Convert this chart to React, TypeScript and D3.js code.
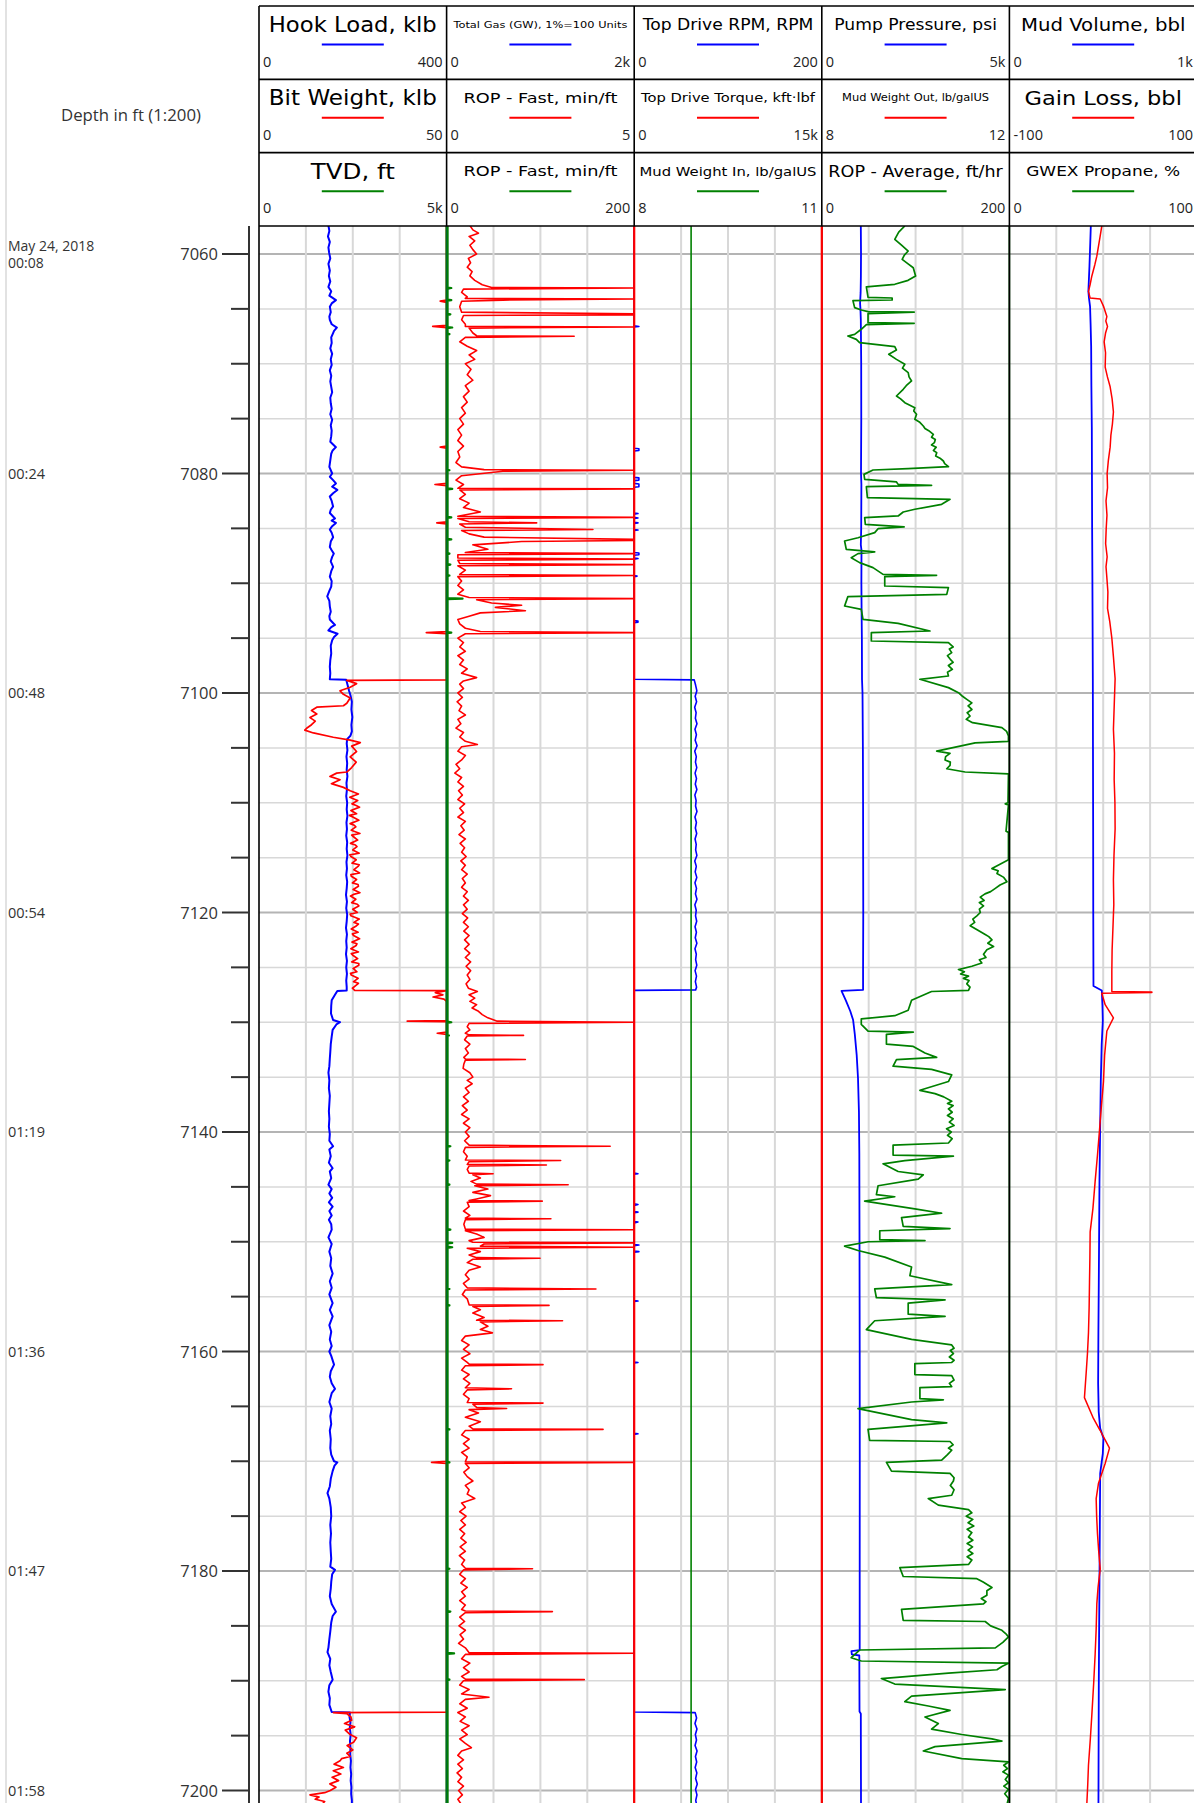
import React from "react";
import * as d3 from "d3";

// ---------------- DATA (depth ft, value) as flat pairs ----------------
const depthLabels = [7060, 7080, 7100, 7120, 7140, 7160, 7180, 7200];
const timeLabels = [["May 24, 2018", "00:08"], ["00:24"], ["00:48"], ["00:54"], ["01:19"], ["01:36"], ["01:47"], ["01:58"]];

const hookLoad = [
  7057.4,148, 7057.9,150, 7058.4,147, 7058.9,151, 7059.4,148, 7059.9,149.6, 7060.4,152, 7060.9,148, 7061.5,151, 7062.0,149, 7062.5,152, 7063.0,148, 7063.4,154, 7063.8,150, 7064.2,164, 7064.5,155, 7064.8,151, 7065.3,153, 7065.7,150, 7066.0,151, 7066.4,155, 7066.7,166, 7067.0,160, 7067.2,158, 7067.6,154, 7068.1,155, 7068.6,152, 7069.1,156, 7069.6,153, 7070.1,155, 7070.6,151, 7071.1,154, 7071.6,152, 7072.1,154, 7072.6,156, 7073.1,152, 7073.6,153, 7074.1,155, 7074.6,152, 7075.1,156, 7075.6,153, 7076.1,155, 7076.6,154, 7077.1,152, 7077.6,164, 7077.9,157, 7078.2,154, 7078.8,152, 7079.4,150, 7080.0,156, 7080.3,151, 7080.6,158, 7080.9,164, 7081.2,156, 7081.5,167, 7081.8,158, 7082.1,151, 7082.5,155, 7083.0,158, 7083.3,153, 7083.6,151, 7084.1,162, 7084.3,155, 7084.5,164, 7084.8,156, 7085.1,151, 7085.4,155, 7085.8,158, 7086.2,153, 7086.7,151, 7087.0,155, 7087.3,159.5, 7087.6,156, 7088.0,153, 7088.5,158, 7088.9,154, 7089.4,151, 7089.8,155, 7090.3,154, 7090.7,150, 7091.2,145.5, 7091.6,150, 7092.1,151, 7092.6,153, 7093.0,150, 7093.3,151, 7093.8,162, 7094.0,154, 7094.3,148, 7094.6,167.5, 7094.9,160, 7095.2,156, 7095.7,153, 7096.4,154, 7097.0,152, 7097.6,151, 7098.2,152, 7098.75,151,
  7098.8,186, 7099.3,189, 7099.8,192, 7100.2,195, 7100.8,198, 7101.5,197, 7102.2,199, 7102.9,197, 7103.5,198, 7103.9,195, 7104.2,188, 7104.6,187, 7105.2,188.5, 7105.8,186.5, 7106.4,188, 7107.0,187, 7107.6,188.5, 7108.2,186.5, 7108.8,187.5, 7109.4,186, 7110.0,188, 7110.6,187, 7111.2,188.5, 7111.8,186.5, 7112.4,187.5, 7113.0,186, 7113.6,188, 7114.2,187, 7114.8,188.5, 7115.4,186.5, 7116.0,187.5, 7116.6,186, 7117.2,188, 7117.8,187, 7118.4,185.5, 7119.0,187.5, 7119.6,186, 7120.2,188, 7120.8,187, 7121.4,185.5, 7122.0,187.5, 7122.6,186, 7123.2,187, 7123.8,185.5, 7124.4,187.5, 7125.0,186, 7125.6,187.5, 7126.2,186, 7126.8,187, 7127.1,187,
  7127.15,167, 7127.5,162, 7128.0,155, 7128.5,154, 7129.2,153.5, 7129.8,158, 7130.0,172.8, 7130.2,165, 7130.7,157, 7131.3,155, 7132.0,153, 7132.7,152, 7133.3,151, 7134.0,150, 7134.6,148, 7135.3,150, 7136.0,149, 7136.7,151, 7137.4,150, 7138.1,149, 7138.8,150, 7139.5,149, 7140.2,151, 7140.8,150, 7141.3,158, 7141.6,150, 7142.2,153, 7142.8,149, 7143.3,157, 7143.6,151, 7144.2,154, 7144.8,148, 7145.2,155, 7145.6,150, 7146.0,156, 7146.4,149, 7146.8,157, 7147.2,150, 7147.6,155, 7148.0,149, 7148.4,154, 7148.9,155, 7149.6,148, 7150.2,155, 7150.9,150, 7151.5,154, 7152.2,152, 7152.9,157, 7153.6,151, 7154.2,155, 7154.8,150, 7155.6,157, 7156.2,151, 7156.8,157, 7157.6,150, 7158.2,154, 7158.9,151, 7159.5,155, 7160.0,150, 7160.4,154, 7161.2,160, 7161.8,153, 7162.3,151, 7162.9,155, 7163.4,162, 7163.8,155, 7164.6,150, 7165.2,155, 7165.9,152, 7166.6,154, 7167.2,151, 7168.0,153, 7168.8,152, 7169.4,154, 7170.0,160, 7170.1,167, 7170.4,161, 7170.9,157, 7171.6,153, 7172.3,151, 7172.9,146, 7173.4,150, 7174.2,153, 7175.0,154, 7175.8,152, 7176.6,153.5, 7177.4,152, 7178.2,153, 7178.9,154, 7179.6,152, 7179.9,162, 7180.3,156, 7181.0,154, 7181.6,153, 7182.3,151, 7183.0,155, 7183.7,164, 7184.1,157, 7184.7,154, 7185.5,152, 7186.2,150, 7187.0,148, 7187.4,146, 7188.0,152, 7188.6,150, 7189.2,153, 7189.9,157, 7190.4,150, 7191.0,148, 7191.6,151, 7192.2,150, 7192.85,155,
  7192.9,194, 7193.3,193, 7193.8,195, 7194.3,193.5, 7194.9,195.5, 7195.5,194, 7196.1,195, 7196.7,194.5, 7197.3,196, 7197.9,195, 7198.5,196.5, 7199.1,195.5, 7199.7,197, 7200.3,196.5, 7200.9,198, 7201.3,198,
];

const bitWeight = [
  7057.4,55, 7064.2,55, 7064.3,48.3, 7064.4,55, 7066.5,55, 7066.6,46.3, 7066.7,55, 7077.5,55, 7077.6,48.3, 7077.7,55, 7080.9,55, 7081.0,46.9, 7081.1,55, 7084.4,55, 7084.5,47.4, 7084.6,55, 7094.4,55, 7094.5,44.6, 7094.6,55, 7098.8,55,
  7098.85,23.4, 7099.15,26, 7099.47,24.3, 7099.8,21.6, 7100.12,22.5, 7100.45,24.3, 7100.94,23.4, 7101.16,22.5, 7101.29,15.4, 7101.59,14, 7101.91,15.4, 7102.24,13.6, 7102.56,15, 7102.89,14, 7103.21,12.7, 7103.38,12.2, 7103.64,14.5, 7104.03,19.8, 7104.29,24.3, 7104.52,27, 7104.84,24.7, 7105.33,26, 7105.82,24.3, 7106.3,25.9, 7106.79,24.7, 7107.2,23.4, 7107.3,20.7, 7107.6,18.9, 7107.9,21.6, 7108.26,19.3, 7108.6,22.5, 7108.9,24.3, 7109.2,26.5,
  7109.5,24.2, 7109.7,25.6, 7109.8,26.3, 7110.1,24.8, 7110.25,25.9, 7110.4,26.8, 7110.7,24.5, 7111.0,26.0, 7111.15,24.1, 7111.3,25.0, 7111.6,26.6, 7111.9,24.3, 7112.05,25.4, 7112.2,25.8, 7112.5,24.6, 7112.8,26.9, 7112.95,24.7, 7113.1,25.2, 7113.4,26.3, 7113.7,24.4, 7113.85,25.7, 7114.0,26.1, 7114.3,25.0, 7114.6,26.7, 7114.75,24.2, 7114.9,24.5, 7115.2,25.9, 7115.5,24.8, 7115.65,26.7, 7115.8,26.4, 7116.1,25.3, 7116.4,26.8, 7116.55,24.5, 7116.7,24.6, 7117.0,26.0, 7117.3,24.9, 7117.45,26.4, 7117.6,26.5, 7117.9,25.1, 7118.2,26.9, 7118.35,25.2, 7118.5,24.4, 7118.8,25.8, 7119.1,24.7, 7119.25,26.2, 7119.4,26.6, 7119.7,25.0, 7120.0,26.2, 7120.15,24.3, 7120.3,24.5, 7120.6,26.7, 7120.9,25.3, 7121.05,26.5, 7121.2,26.0, 7121.5,24.6, 7121.8,26.4, 7121.95,24.9, 7122.1,25.2, 7122.4,26.8, 7122.7,24.8, 7122.85,26.1, 7123.0,25.9, 7123.3,24.5, 7123.6,26.5, 7123.75,24.6, 7123.9,25.0, 7124.2,26.3, 7124.5,24.7, 7124.65,26.6, 7124.8,26.6, 7125.1,25.1, 7125.4,26.1, 7125.55,24.4, 7125.7,24.6, 7126.0,26.4, 7126.3,25.2, 7126.45,26.5, 7126.6,26.0, 7126.9,24.9, 7127.1,25.5,
  7127.12,55, 7127.3,47, 7127.5,49, 7127.7,46.4, 7127.9,49.3, 7128.1,55, 7129.85,55, 7129.9,39.5, 7129.95,55, 7130.9,55, 7131.0,47.5, 7131.1,55, 7170.0,55, 7170.1,46, 7170.2,55, 7192.85,55,
  7192.9,19.8, 7193.0,23.4, 7193.3,24.5, 7193.6,24.7, 7193.9,22.8, 7194.2,25.5, 7194.5,23, 7194.9,24.3, 7195.2,26.0, 7195.6,25.2, 7195.9,23.5, 7196.3,25.0, 7196.6,23.4, 7196.9,24.3, 7197.1,22.0, 7197.3,21.6, 7197.6,20.0, 7197.9,22.5, 7198.2,19.8, 7198.5,21.8, 7198.8,19.5, 7199.1,21.2, 7199.4,18.9, 7199.7,20.5, 7200.0,19.0, 7200.2,17.5, 7200.4,13.6, 7200.6,16.0, 7200.8,15.0, 7201.0,17.5, 7201.3,16.7,
];

const tvd = [7057.4,7057.4, 7201.3,7201.3];

const totalGas = [7057.4,8, 7063.1,8, 7063.15,25, 7063.2,8, 7081.4,8, 7081.45,22, 7081.5,8, 7087.3,8, 7087.35,20, 7087.4,8, 7150.1,8, 7150.15,22, 7150.2,8, 7201.3,8];

const ropFast = [
  7057.4,0.62, 7057.8,0.7, 7058.1,0.85, 7058.4,0.6, 7058.8,0.75, 7059.2,0.62, 7059.6,0.7, 7060.0,0.8, 7060.4,0.58, 7060.8,0.64, 7061.2,0.55, 7061.6,0.68, 7062.0,0.62, 7062.4,0.75, 7062.8,0.95, 7063.05,1.2, 7063.1,6, 7063.2,0.45, 7063.5,0.4, 7063.9,0.55, 7064.05,0.5, 7064.1,6, 7064.2,1.5, 7064.3,0.4, 7064.8,0.35, 7065.3,0.4, 7065.45,6, 7065.55,6, 7065.6,0.45, 7066.0,0.4, 7066.4,0.5, 7066.6,0.5, 7066.65,6, 7066.75,0.6, 7067.2,0.7, 7067.45,0.8, 7067.5,3.4, 7067.6,0.5, 7068.0,0.35, 7068.4,0.55, 7068.8,0.8, 7069.2,0.6, 7069.6,0.75, 7070.0,0.5, 7070.5,0.65, 7071,0.55, 7071.5,0.7, 7072,0.5, 7072.5,0.6, 7073,0.45, 7073.5,0.55, 7074,0.4, 7074.5,0.5, 7075,0.35, 7075.5,0.45, 7076,0.3, 7076.5,0.4, 7077,0.3, 7077.5,0.45, 7078,0.3, 7078.5,0.35, 7079,0.25, 7079.4,0.4, 7079.65,1.0, 7079.7,6, 7079.8,1.5, 7080.2,0.4, 7080.6,0.25, 7081.0,0.45, 7081.35,0.3, 7081.4,6, 7081.5,0.35, 7081.9,0.5, 7082.3,0.35, 7082.7,0.6, 7083.1,0.45, 7083.5,0.9, 7083.9,0.3, 7084.0,6, 7084.1,0.3, 7084.4,0.6, 7084.5,2.4, 7084.6,0.35, 7084.9,0.5, 7085.1,3.9, 7085.2,0.4, 7085.5,0.6, 7085.8,1.0, 7086.0,6, 7086.1,6, 7086.2,2.0, 7086.5,0.7, 7086.9,1.1, 7087.2,0.5, 7087.3,6, 7087.4,0.3, 7087.7,0.3, 7087.8,6, 7087.9,0.3, 7088.2,0.35, 7088.3,6, 7088.4,0.3, 7088.8,0.5, 7089.2,0.35, 7089.3,6, 7089.4,0.3, 7089.8,0.4, 7090.2,0.3, 7090.6,0.45, 7091.0,0.3, 7091.3,0.6, 7091.4,6, 7091.5,0.8, 7091.8,1.2, 7092.0,2.0, 7092.2,1.3, 7092.5,2.1, 7092.7,0.9, 7093.0,0.6, 7093.3,0.3, 7093.7,0.35, 7094.1,0.5, 7094.4,0.9, 7094.5,6, 7094.6,0.5, 7095.0,0.3, 7095.4,0.45, 7095.8,0.35, 7096.2,0.5, 7096.6,0.3, 7097.0,0.45, 7097.4,0.35, 7097.8,0.55, 7098.2,0.4, 7098.6,0.8, 7098.9,0.45,
  7099.2,0.35, 7099.6,0.45, 7100.0,0.3, 7100.4,0.42, 7100.8,0.28, 7101.2,0.4, 7101.6,0.33, 7102.0,0.5, 7102.4,0.3, 7102.8,0.38, 7103.2,0.25, 7103.6,0.45, 7104.0,0.35, 7104.4,0.5, 7104.7,0.82, 7104.9,0.4, 7105.3,0.3, 7105.7,0.5, 7106.1,0.4, 7106.5,0.25, 7106.9,0.35, 7107.3,0.22, 7107.7,0.4, 7108.1,0.3, 7108.5,0.45, 7108.9,0.32, 7109.3,0.42, 7109.7,0.3, 7110.1,0.48, 7110.5,0.35, 7110.9,0.45, 7111.3,0.3, 7111.7,0.5, 7112.1,0.38, 7112.5,0.47, 7112.9,0.33, 7113.3,0.5, 7113.7,0.36, 7114.1,0.48, 7114.5,0.4, 7114.9,0.52, 7115.3,0.38, 7115.7,0.5, 7116.1,0.4, 7116.5,0.55, 7116.9,0.42, 7117.3,0.5, 7117.7,0.4, 7118.1,0.55, 7118.5,0.45, 7118.9,0.58, 7119.3,0.45, 7119.7,0.55, 7120.1,0.42, 7120.5,0.56, 7120.9,0.45, 7121.3,0.58, 7121.7,0.46, 7122.1,0.6, 7122.5,0.48, 7122.9,0.6, 7123.3,0.48, 7123.7,0.62, 7124.1,0.5, 7124.5,0.64, 7124.9,0.52, 7125.3,0.64, 7125.7,0.55, 7126.1,0.62, 7126.5,0.52, 7126.9,0.58, 7127.2,0.82, 7127.5,0.6, 7127.8,0.75, 7128.1,0.62, 7128.4,0.8, 7128.7,0.68, 7129.0,0.85, 7129.3,0.95, 7129.6,1.1, 7129.9,1.35, 7130.0,6,
  7130.1,0.6, 7130.4,0.55, 7130.7,0.62, 7131.0,0.5, 7131.15,0.6, 7131.2,2.05, 7131.25,0.55, 7131.6,0.48, 7132.0,0.62, 7132.4,0.5, 7132.8,0.58, 7133.2,0.46, 7133.35,0.5, 7133.4,2.1, 7133.45,0.5, 7133.8,0.46, 7134.2,0.44, 7134.6,0.62, 7135.0,0.7, 7135.3,0.55, 7135.6,0.68, 7136.0,0.5, 7136.4,0.6, 7136.8,0.45, 7137.2,0.58, 7137.6,0.42, 7138.0,0.55, 7138.4,0.4, 7138.8,0.6, 7139.2,0.45, 7139.6,0.62, 7140.0,0.5, 7140.4,0.6, 7140.8,0.48, 7141.2,0.6, 7141.3,4.36, 7141.4,0.5, 7141.8,0.45, 7142.2,0.55, 7142.55,0.5, 7142.6,3.04, 7142.7,0.6, 7142.95,0.55, 7143.0,2.66, 7143.1,0.6, 7143.4,0.55, 7143.75,0.6, 7143.8,1.24, 7143.9,0.7, 7144.2,0.9, 7144.5,0.65, 7144.75,0.8, 7144.8,3.24, 7144.9,0.75, 7145.2,1.1, 7145.5,0.7, 7145.8,1.17, 7146.1,0.8, 7146.25,0.6, 7146.3,2.55, 7146.4,0.55, 7146.8,0.6, 7147.2,0.45, 7147.6,0.62, 7147.85,0.5, 7147.9,2.78, 7148.0,0.5, 7148.4,0.46, 7148.85,0.5, 7148.9,6, 7149.0,0.5, 7149.3,0.8, 7149.6,1.0, 7149.9,0.6, 7150.05,0.7, 7150.1,6, 7150.2,1.0, 7150.4,0.9, 7150.5,6, 7150.6,0.55, 7150.9,0.9, 7151.2,0.6, 7151.45,0.8, 7151.5,2.49, 7151.6,0.7, 7151.9,0.55, 7152.3,0.9, 7152.6,0.6, 7153.0,0.5, 7153.4,0.6, 7153.8,0.45, 7154.2,0.55, 7154.3,3.98, 7154.4,0.5, 7154.8,0.42, 7155.2,0.55, 7155.75,0.6, 7155.8,2.73, 7155.9,0.7, 7156.2,0.9, 7156.5,0.7, 7156.9,1.0, 7157.15,0.8, 7157.2,3.09, 7157.3,0.9, 7157.7,1.1, 7158.0,0.9, 7158.3,1.22, 7158.6,0.5, 7159.0,0.4, 7159.4,0.6, 7159.8,0.45, 7160.2,0.62, 7160.6,0.4, 7161.0,0.55, 7161.15,0.6, 7161.2,2.57, 7161.3,0.5, 7161.7,0.4, 7162.1,0.6, 7162.5,0.45, 7162.9,0.62, 7163.3,0.5, 7163.4,1.73, 7163.5,0.55, 7163.9,0.45, 7164.3,0.6, 7164.65,0.55, 7164.7,2.57, 7164.8,0.7, 7165.1,0.8, 7165.2,1.6, 7165.3,0.6, 7165.6,0.85, 7166.0,0.5, 7166.4,0.9, 7166.8,0.6, 7167.05,0.7, 7167.1,4.17, 7167.2,0.5, 7167.6,0.4, 7168.0,0.6, 7168.4,0.45, 7168.8,0.6, 7169.2,0.4, 7169.6,0.55, 7170.05,0.5, 7170.1,6, 7170.2,0.5, 7170.6,0.6, 7171.0,0.46, 7171.4,0.55, 7171.8,0.7, 7172.2,0.5, 7172.6,0.6, 7173.0,0.55, 7173.4,0.75, 7173.8,0.4, 7174.2,0.5, 7174.6,0.35, 7175.0,0.52, 7175.4,0.38, 7175.8,0.5, 7176.2,0.35, 7176.6,0.48, 7177.0,0.38, 7177.4,0.52, 7177.8,0.36, 7178.2,0.5, 7178.6,0.34, 7179.0,0.48, 7179.4,0.4, 7179.75,0.5, 7179.8,2.29, 7179.9,0.45, 7180.3,0.35, 7180.7,0.5, 7181.1,0.38, 7181.5,0.55, 7181.9,0.4, 7182.3,0.5, 7182.7,0.35, 7183.1,0.5, 7183.5,0.4, 7183.65,0.5, 7183.7,2.82, 7183.8,0.5, 7184.2,0.35, 7184.6,0.48, 7185.0,0.33, 7185.4,0.5, 7185.8,0.36, 7186.2,0.45, 7186.6,0.32, 7187.0,0.5, 7187.45,0.6, 7187.5,6, 7187.6,0.5, 7188.0,0.4, 7188.4,0.62, 7188.8,0.45, 7189.2,0.6, 7189.6,0.4, 7189.85,0.5, 7189.9,3.67, 7190.0,0.45, 7190.4,0.35, 7190.8,0.6, 7191.2,0.4, 7191.5,1.13, 7191.7,0.5, 7192.1,0.35, 7192.5,0.55, 7192.9,0.3, 7193.3,0.5, 7193.7,0.36, 7194.1,0.6, 7194.5,0.4, 7194.9,0.55, 7195.3,0.35, 7195.7,0.5, 7196.1,0.66, 7196.4,0.4, 7196.8,0.3, 7197.2,0.45, 7197.6,0.3, 7198.0,0.42, 7198.4,0.28, 7198.8,0.4, 7199.2,0.3, 7199.6,0.45, 7200.0,0.32, 7200.4,0.42, 7200.8,0.3, 7201.3,0.4,
];

const ropFastG = [
  7057.4,1, 7063.05,1, 7063.1,5, 7063.15,1, 7064.15,1, 7064.2,5, 7064.25,1, 7065.45,1, 7065.5,4, 7065.55,1, 7066.65,1, 7066.7,6, 7066.75,1, 7067.25,1, 7067.3,3, 7067.35,1, 7079.65,1, 7079.7,3, 7079.75,1, 7081.35,1, 7081.4,6, 7081.45,1, 7083.95,1, 7084.0,5, 7084.05,1, 7085.95,1, 7086.0,5, 7086.05,1, 7087.25,1, 7087.3,3, 7087.35,1, 7088.25,1, 7088.3,4, 7088.35,1, 7089.25,1, 7089.3,3, 7089.35,1, 7091.35,1, 7091.4,17, 7091.45,1, 7094.45,1, 7094.5,5, 7094.55,1,
  7129.95,1, 7130.0,5, 7130.05,1, 7131.15,1, 7131.2,2.5, 7131.25,1, 7141.25,1, 7141.3,4, 7141.35,1, 7142.55,1, 7142.6,3, 7142.65,1, 7144.75,1, 7144.8,3, 7144.85,1, 7148.85,1, 7148.9,4, 7148.95,1, 7150.05,1, 7150.1,6, 7150.15,1, 7150.45,1, 7150.5,6, 7150.55,1, 7154.25,1, 7154.3,3, 7154.35,1, 7155.75,1, 7155.8,3, 7155.85,1, 7167.05,1, 7167.1,3, 7167.15,1, 7170.05,1, 7170.1,3, 7170.15,1, 7179.75,1, 7179.8,3, 7179.85,1, 7183.65,1, 7183.7,4, 7183.75,1, 7187.45,1, 7187.5,8, 7187.55,1, 7189.85,1, 7189.9,3, 7189.95,1, 7201.3,1,
];

const tdRpm = [
  7057.4,0, 7066.55,0, 7066.6,5, 7066.65,0, 7077.7,0, 7077.75,5, 7077.9,5, 7077.95,0, 7080.35,0, 7080.4,5, 7080.6,5, 7080.65,0, 7080.9,0, 7080.95,5, 7081.2,5, 7081.25,0, 7083.6,0, 7083.65,4, 7083.7,0, 7084.0,0, 7084.05,4, 7084.1,0, 7084.45,0, 7084.5,4, 7084.55,0, 7085.1,0, 7085.15,4, 7085.2,0, 7087.2,0, 7087.25,5, 7087.4,5, 7087.45,0, 7087.7,0, 7087.75,4, 7087.8,0, 7089.3,0, 7089.35,3, 7089.4,0, 7093.4,0, 7093.45,4, 7093.55,4, 7093.6,0, 7098.75,0,
  7098.8,64, 7099.3,65.5, 7099.8,66.8, 7100.3,65, 7100.8,66.5, 7101.3,64.5, 7101.8,66, 7102.3,65.2, 7102.8,66.9, 7103.3,64.8, 7103.8,66.3, 7104.3,65, 7104.8,67, 7105.3,64.6, 7105.8,66.2, 7106.3,65.3, 7106.8,66.7, 7107.3,64.9, 7107.8,66.4, 7108.3,65.1, 7108.8,66.8, 7109.3,64.7, 7109.8,66, 7110.3,65.4, 7110.8,66.9, 7111.3,64.8, 7111.8,66.3, 7112.3,65.2, 7112.8,66.6, 7113.3,64.9, 7113.8,66.1, 7114.3,65.5, 7114.8,66.8, 7115.3,64.6, 7115.8,66.2, 7116.3,65, 7116.8,66.7, 7117.3,64.8, 7117.8,66.4, 7118.3,65.3, 7118.8,66.9, 7119.3,64.7, 7119.8,66.1, 7120.3,65.4, 7120.8,66.6, 7121.3,64.9, 7121.8,66.3, 7122.3,65.1, 7122.8,66.8, 7123.3,64.8, 7123.8,66.2, 7124.3,65.5, 7124.8,66.7, 7125.3,64.9, 7125.8,66.4, 7126.3,65.2, 7126.8,66.5, 7127.05,65.5, 7127.1,0,
  7143.75,0, 7143.8,4, 7143.85,0, 7146.55,0, 7146.6,4, 7146.7,0, 7147.25,0, 7147.3,4, 7147.35,0, 7148.15,0, 7148.2,4, 7148.3,0, 7150.25,0, 7150.3,5, 7150.35,0, 7150.85,0, 7150.9,5, 7150.95,0, 7155.35,0, 7155.4,4, 7155.45,0, 7160.95,0, 7161.0,4, 7161.05,0, 7167.45,0, 7167.5,4, 7167.55,0, 7192.85,0,
  7192.9,65, 7193.4,66.5, 7193.9,64.8, 7194.4,66.9, 7194.9,65.2, 7195.4,66.4, 7195.9,64.9, 7196.4,67, 7196.9,65.3, 7197.4,66.6, 7197.9,65, 7198.4,66.8, 7198.9,65.5, 7199.4,67.2, 7199.9,65.4, 7200.4,66.9, 7200.9,65.6, 7201.3,66.5,
];

const tdTorque = [7057.4,0, 7201.3,0];
const mudWeightIn = [7057.4,8.91, 7201.3,8.91];

const pumpPressure = [
  7057.45,1040, 7060,1045, 7062,1042, 7063.5,1035, 7064.5,1020, 7065,1030, 7066,1040, 7070,1050, 7075,1052, 7080,1045, 7081,1055, 7085,1050, 7086.5,1040, 7087,1058, 7090,1055, 7093,1062, 7095,1068, 7098.8,1072, 7100,1085, 7105,1095, 7110,1100, 7115,1102, 7120,1105, 7125,1100, 7127.05,1100,
  7127.15,525, 7128,640, 7129,760, 7129.8,835, 7131.1,880, 7133,930, 7135.1,965, 7138.2,990, 7142,1000, 7150,1005, 7160,1010, 7170,1012, 7180,1010, 7187.2,1010, 7187.3,790, 7187.6,800, 7187.7,1000, 7192.8,1005, 7193,1040, 7201.3,1045,
];

const mudWeightOut = [7057.4,7.95, 7201.3,7.95];

const ropAverage = [
  7057.45,88.5, 7058.0,82, 7058.66,77.8, 7059.2,85, 7059.73,92.1, 7060.1,88, 7060.49,85.7, 7060.9,92, 7061.25,97.5, 7062.0,100, 7062.4,92, 7062.76,77.8, 7063.0,47.5, 7063.95,49.3, 7064.01,75, 7064.19,75, 7064.25,33.2, 7064.89,35, 7065.1,42.1, 7065.25,49.3, 7065.3,98.5, 7065.44,49.3, 7066.26,49.3, 7066.32,98.5, 7066.44,47.5, 7066.86,42.1, 7067.32,35, 7067.47,27.8, 7067.78,36.8, 7068.08,40.3, 7068.44,77.8, 7068.75,79.6, 7069.14,71.4, 7069.6,79.6, 7070.05,88.5, 7070.4,86, 7070.81,92.1, 7071.2,93, 7071.57,95.7, 7072.0,90, 7072.33,86.8, 7072.94,79.6, 7073.2,84, 7073.55,88.5, 7074.0,99.2, 7074.3,98, 7074.6,101, 7075.06,99.2, 7075.3,104, 7075.67,108.2, 7075.9,110, 7076.1,114, 7076.43,118.9, 7076.7,117, 7076.9,121, 7077.19,120, 7077.4,117, 7077.6,122, 7077.9,119, 7078.1,122.5, 7078.4,121.4, 7078.6,126, 7078.86,129.6, 7079.1,131, 7079.38,135, 7079.56,92.1, 7079.68,54.6, 7080.08,45, 7080.53,45.7, 7080.77,79.6, 7080.99,81.4, 7081.08,117, 7081.2,47.5, 7082.2,48.6, 7082.35,136.7, 7082.81,127.8, 7083.26,99.2, 7083.51,86.8, 7083.87,81.4, 7084.02,45.7, 7084.63,46.4, 7084.87,87.8, 7085.03,60, 7085.39,56.4, 7085.85,38.6, 7086.15,24.3, 7086.91,26.1, 7087.15,56.4, 7087.3,38.6, 7087.67,31.4, 7088.12,40.3, 7088.58,54.6, 7089.19,65.3, 7089.28,122.4, 7089.4,67.1, 7090.25,67.1, 7090.4,135, 7091.01,133.2, 7091.22,27.8, 7092.07,24.3, 7092.38,42.1, 7093.29,43.9, 7093.65,81.4, 7094.35,115.3, 7094.5,52.8, 7095.26,52.8, 7095.41,135, 7095.8,140, 7096.0,136, 7096.32,138.5, 7096.6,134, 7096.93,137, 7097.2,140, 7097.5,135, 7097.84,139.2, 7098.1,134, 7098.45,135, 7098.75,104.6, 7099.51,135, 7099.97,145.7, 7100.3,150, 7100.58,154.6, 7100.9,160, 7101.18,156, 7101.5,160, 7101.8,155, 7102.1,158, 7102.4,154, 7102.7,160.7, 7103.16,192, 7103.5,197, 7103.92,199, 7104.4,199, 7104.55,163.5, 7105.3,122.5, 7105.5,136.7, 7105.8,132, 7106.1,131.4, 7106.3,137, 7106.6,136.7, 7106.9,133.2, 7107.2,152.8, 7107.36,199, 7110.0,198.5, 7110.1,195.6, 7110.2,199, 7112.6,196.4, 7112.7,199, 7115.2,199, 7115.6,190, 7116.0,181.4, 7116.2,188, 7116.45,186.7, 7116.8,194, 7117.2,197.4, 7117.5,190, 7117.8,185, 7118.1,180, 7118.3,174, 7118.6,168.9, 7118.9,173, 7119.1,168, 7119.4,172.4, 7119.7,168, 7120.0,169, 7120.3,165.3, 7120.6,161, 7120.9,163, 7121.2,158.2, 7121.6,166, 7122.0,174.2, 7122.2,178, 7122.5,181.4, 7122.8,177, 7123.1,183.1, 7123.4,176, 7123.8,172.4, 7124.1,175, 7124.3,168, 7124.6,170.6, 7124.9,160, 7125.2,145.7, 7125.4,152, 7125.6,148, 7125.8,156.4, 7126.0,151, 7126.2,157, 7126.5,154.6, 7126.8,158, 7127.1,156.4, 7127.2,117, 7128.0,95.7, 7128.9,92.1, 7129.4,77.8, 7129.7,42.1, 7130.2,42.1, 7130.8,49.3, 7130.9,97.5, 7131.1,68.9, 7132.0,68.9, 7132.2,97.5, 7132.8,110, 7133.2,122.4, 7133.4,79.6, 7134.0,76, 7134.3,117, 7134.8,138.5, 7135.4,135, 7136.2,104.6, 7136.5,120.7, 7136.8,130, 7137.2,138.5, 7137.4,134, 7137.6,140, 7137.9,135, 7138.2,139, 7138.5,134, 7138.8,140, 7139.1,136, 7139.4,141, 7139.7,133, 7140.0,138, 7140.3,134, 7140.6,139, 7141.0,135, 7141.2,76, 7142.1,76, 7142.2,140.3, 7142.6,88.5, 7142.9,65.3, 7143.6,81.4, 7143.9,108.2, 7144.3,102.8, 7144.9,60, 7145.7,58.2, 7145.9,77.8, 7146.3,45.7, 7147.0,99.2, 7147.4,127.8, 7147.8,85, 7148.6,86.8, 7148.8,136.7, 7149.0,61.8, 7149.8,61.8, 7149.9,110, 7150.0,49.3, 7150.4,24.3, 7150.8,38.6, 7151.4,67.1, 7152.3,95.7, 7153.1,93.9, 7153.9,138.5, 7154.3,56.4, 7155.1,58.2, 7155.3,131.4, 7155.6,92.1, 7156.6,92.1, 7156.8,131.4, 7157.2,56.4, 7158.0,47.5, 7158.9,95.7, 7159.4,138.5, 7159.7,141, 7159.9,137, 7160.2,140.3, 7160.5,136, 7160.8,141, 7161.0,138.5, 7161.1,99.2, 7162.1,99.2, 7162.2,138.5, 7162.6,141, 7162.9,136, 7163.2,138.5, 7163.3,104.6, 7164.3,104.6, 7164.4,129.6, 7164.6,95.7, 7165.2,38.6, 7166.2,95.7, 7166.5,133.2, 7167.1,49.3, 7168.1,51, 7168.2,136.7, 7168.5,140, 7168.8,135, 7169.0,138.5, 7169.4,134, 7169.9,127.8, 7170.1,68.9, 7170.9,74.3, 7171.1,136.7, 7171.5,141, 7171.8,140.3, 7172.2,137, 7172.6,141, 7173.1,138.5, 7173.4,113.5, 7174.0,124.2, 7174.4,156.4, 7174.7,160, 7175.0,154, 7175.3,161, 7175.6,156, 7175.9,162, 7176.2,155, 7176.5,160, 7176.9,156.4, 7177.2,161, 7177.5,155, 7177.8,160.7, 7178.1,156, 7178.4,161, 7178.7,155, 7179.0,160, 7179.4,156.4, 7179.7,83.2, 7180.5,86.8, 7180.7,165.3, 7181.0,172, 7181.5,181.4, 7181.8,176, 7182.2,176, 7182.5,170, 7182.8,175, 7183.0,172.4, 7183.5,85, 7184.5,86.8, 7184.6,174.2, 7185.0,180, 7185.4,192, 7185.7,196, 7186.0,199, 7186.5,193, 7187.0,185, 7187.2,40.3, 7187.9,31.4, 7188.2,42.1, 7188.4,199, 7188.7,192, 7189.0,186.7, 7189.3,135, 7189.8,63.5, 7190.3,77.8, 7190.8,195.6, 7191.4,95.7, 7191.9,88.5, 7192.3,113.5, 7192.7,136.7, 7193.3,110, 7193.9,124.2, 7194.4,117, 7194.9,149.2, 7195.3,181.4, 7195.5,192, 7196.0,120.7, 7196.4,108.2, 7197.1,149.2, 7197.4,199, 7197.7,194, 7198.0,198, 7198.3,193, 7198.6,199, 7199.0,195.6, 7199.3,199, 7199.6,194, 7199.9,199, 7200.3,195, 7200.7,199, 7201.3,197.4,
];

const mudVolume = [
  7057.45,434, 7059.0,431, 7061.1,426.8, 7063.4,421, 7064.0,424, 7064.8,430, 7066.5,433, 7068.4,435.8, 7072.0,437, 7075.8,439.3, 7080.0,440, 7084.95,441, 7090.0,442.5, 7098.7,444.7, 7105.0,445.5, 7112.4,446.4, 7120.0,447, 7126.7,448.1,
  7127.1,492.5, 7128.5,496, 7129.9,497.9, 7132.0,492, 7135.4,487.2, 7140.0,483.5, 7144.5,480.1, 7150.0,478, 7153.7,476.5, 7158.0,474.5, 7162.9,473, 7165.5,476, 7167.0,483.9, 7167.9,501.3, 7169.3,497.9, 7171.1,483.9, 7176.0,482, 7181.2,480.1, 7186.0,478, 7190.4,476.5, 7196.0,475.5, 7201.3,474.7,
];

const gainLoss = [
  7057.45,-1.5, 7058.5,-3.5, 7060.2,-6.8, 7061.0,-9, 7062.0,-12.1, 7062.8,-14, 7063.4,-15.7, 7064.0,-14, 7064.1,-3.2, 7064.8,0.5, 7065.7,3.9, 7066.1,2.8, 7066.6,4.6, 7067.2,2.5, 7068.0,1.0, 7069.0,2.5, 7070.3,2.1, 7071.2,4.5, 7072.1,7.4, 7073.2,9.5, 7074.4,10.9, 7075.5,9.8, 7076.5,8.2, 7077.6,7.4, 7078.8,5.5, 7080.0,4.2, 7081.3,4.6, 7082.5,3.0, 7083.8,4.0, 7085.0,3.2, 7086.4,2.6, 7087.6,4.2, 7088.5,3.0, 7089.5,3.9, 7090.8,5.0, 7092.3,4.6, 7093.5,7.0, 7095.0,9.2, 7096.8,11.0, 7098.7,12.7, 7101.0,11.8, 7103.3,10.9, 7105.5,12.0, 7107.9,11.7, 7110.0,12.5, 7112.4,12.7, 7114.8,11.5, 7117.0,10.9, 7119.3,11.3, 7121.6,10.3, 7123.4,9.5, 7125.3,9.2, 7127.2,9.2,
  7127.25,51.9, 7127.3,51.9, 7127.35,-1.5, 7128.4,2.1, 7129.6,10.9, 7130.8,3.9, 7133.0,1.5, 7135.4,0.3, 7137.5,-1.8, 7139.9,-4, 7142.0,-6.0, 7144.5,-8.6, 7147.0,-11.0, 7149.1,-13.9, 7151.5,-14.2, 7153.7,-14.6, 7156.0,-15.0, 7158.3,-15.7, 7160.2,-16.8, 7162.0,-18.2, 7164.2,-20, 7166.1,-10.4, 7167.2,-3.2, 7168.8,6.7, 7170.2,2.1, 7172.0,-5, 7173.4,-7.5, 7175.0,-7.0, 7176.6,-6.1, 7178.2,-4.8, 7179.8,-3.2, 7181.5,-5.5, 7183.0,-6.8, 7185.3,-7.5, 7187.6,-8.6, 7190.3,-10.2, 7193.1,-12.1, 7195.4,-13.8, 7197.7,-15.7, 7199.5,-16.5, 7201.3,-17.5,
];

const gwexPropane = [7057.4,0, 7201.3,0];

// ---------------- LAYOUT ----------------
const W = 1194;
const H = 1803;
const X0 = 259;
const TW = 187.6;
const HT = 6;
const RH = 73.33;
const DATA_TOP = HT + 3 * RH;
const BLUE = "#0000ff";
const RED = "#ff0000";
const GREEN = "#008000";
const TITLE_FONT = "'DejaVu Sans', Verdana, sans-serif";
const UI_FONT = "'Open Sans', 'Noto Sans', sans-serif";

const pairs = (a: number[]): [number, number][] => {
  const r: [number, number][] = [];
  for (let i = 0; i + 1 < a.length; i += 2) r.push([a[i], a[i + 1]]);
  return r;
};

type Curve = {
  title: string; fs: number; tw: number; color: string;
  domain: [number, number]; lo: string; hi: string; data: number[]; sw: number;
};

const tracks: Curve[][] = [
  [
    { title: "Hook Load, klb", fs: 20.5, tw: 168, color: BLUE, domain: [0, 400], lo: "0", hi: "400", data: hookLoad, sw: 2 },
    { title: "Bit Weight, klb", fs: 20.5, tw: 168, color: RED, domain: [0, 50], lo: "0", hi: "50", data: bitWeight, sw: 1.7 },
    { title: "TVD, ft", fs: 21, tw: 84, color: GREEN, domain: [0, 5000], lo: "0", hi: "5k", data: tvd, sw: 2.2 },
  ],
  [
    { title: "Total Gas (GW), 1%=100 Units", fs: 9.5, tw: 174, color: BLUE, domain: [0, 2000], lo: "0", hi: "2k", data: totalGas, sw: 1.5 },
    { title: "ROP - Fast, min/ft", fs: 14.5, tw: 154, color: RED, domain: [0, 5], lo: "0", hi: "5", data: ropFast, sw: 1.6 },
    { title: "ROP - Fast, min/ft", fs: 14.5, tw: 154, color: GREEN, domain: [0, 200], lo: "0", hi: "200", data: ropFastG, sw: 2.2 },
  ],
  [
    { title: "Top Drive RPM, RPM", fs: 15, tw: 170.7, color: BLUE, domain: [0, 200], lo: "0", hi: "200", data: tdRpm, sw: 1.6 },
    { title: "Top Drive Torque, kft·lbf", fs: 12.5, tw: 174, color: RED, domain: [0, 15000], lo: "0", hi: "15k", data: tdTorque, sw: 2.2 },
    { title: "Mud Weight In, lb/galUS", fs: 12.8, tw: 177, color: GREEN, domain: [8, 11], lo: "8", hi: "11", data: mudWeightIn, sw: 1.6 },
  ],
  [
    { title: "Pump Pressure, psi", fs: 15, tw: 162.6, color: BLUE, domain: [0, 5000], lo: "0", hi: "5k", data: pumpPressure, sw: 1.8 },
    { title: "Mud Weight Out, lb/galUS", fs: 9.8, tw: 147, color: RED, domain: [8, 12], lo: "8", hi: "12", data: mudWeightOut, sw: 2.2 },
    { title: "ROP - Average, ft/hr", fs: 15.5, tw: 174.5, color: GREEN, domain: [0, 200], lo: "0", hi: "200", data: ropAverage, sw: 1.7 },
  ],
  [
    { title: "Mud Volume, bbl", fs: 18.3, tw: 164.5, color: BLUE, domain: [0, 1000], lo: "0", hi: "1k", data: mudVolume, sw: 1.8 },
    { title: "Gain Loss, bbl", fs: 19.5, tw: 157.5, color: RED, domain: [-100, 100], lo: "-100", hi: "100", data: gainLoss, sw: 1.5 },
    { title: "GWEX Propane, %", fs: 14.5, tw: 154, color: GREEN, domain: [0, 100], lo: "0", hi: "100", data: gwexPropane, sw: 1.5 },
  ],
];

const yScale = d3.scaleLinear().domain([7060, 7200]).range([254, 1790.5]);

export default function App() {
  const gridDepths = d3.range(7060, 7201, 5);
  const trackLeft = (i: number) => X0 + i * TW;

  return (
    <svg width={W} height={H} viewBox={`0 0 ${W} ${H}`}
      style={{ position: "absolute", left: 0, top: 0, background: "#fff", display: "block" }}>
      <defs>
        <clipPath id="dataClip">
          <rect x={X0 - 4} y={DATA_TOP} width={W - X0 + 10} height={H - DATA_TOP} />
        </clipPath>
      </defs>
      <rect x={0} y={0} width={W} height={H} fill="#fff" />
      <line x1={6} y1={0} x2={6} y2={H} stroke="#e2e2e2" strokeWidth={2} />

      {/* depth caption */}
      <text x={131} y={121} textAnchor="middle" fontFamily={UI_FONT} fontSize={15.5} fill="#333"
        textLength={140} lengthAdjust="spacingAndGlyphs">Depth in ft (1:200)</text>

      {/* grid */}
      <g>
        {gridDepths.map((d) => (
          <line key={"h" + d} x1={X0} x2={W} y1={yScale(d)} y2={yScale(d)}
            stroke={d % 20 === 0 ? "#b4b4b4" : "#d8d8d8"} strokeWidth={d % 20 === 0 ? 2 : 1.5} />
        ))}
        {tracks.map((_, i) =>
          [1, 2, 3].map((q) => (
            <line key={"v" + i + q} x1={trackLeft(i) + (q * TW) / 4} x2={trackLeft(i) + (q * TW) / 4}
              y1={DATA_TOP} y2={H} stroke="#d8d8d8" strokeWidth={2} />
          ))
        )}
      </g>

      {/* track borders in data area (under curves) */}
      {[0, 1, 2, 3, 5].map((i) => (
        <line key={"b" + i} x1={trackLeft(i)} x2={trackLeft(i)} y1={DATA_TOP} y2={H} stroke="#000" strokeWidth={1.6} />
      ))}

      {/* curves */}
      <g clipPath="url(#dataClip)">
        {tracks.map((track, i) =>
          track.map((c, r) => {
            const xs = d3.scaleLinear().domain(c.domain).range([trackLeft(i), trackLeft(i) + TW]).clamp(true);
            const line = d3.line<[number, number]>().x((p) => xs(p[1])).y((p) => yScale(p[0]));
            return (
              <path key={"c" + i + r} d={line(pairs(c.data)) || ""} fill="none" stroke={c.color}
                strokeWidth={c.sw} strokeLinejoin="round" />
            );
          })
        )}
      </g>

      {/* border between track 4 and 5 drawn over curves */}
      <line x1={trackLeft(4)} x2={trackLeft(4)} y1={DATA_TOP} y2={H} stroke="#000" strokeWidth={1.8} />

      {/* header */}
      <g>
        <line x1={X0} x2={W} y1={HT} y2={HT} stroke="#000" strokeWidth={1.6} />
        {[1, 2, 3].map((r) => (
          <line key={"hr" + r} x1={X0} x2={W} y1={HT + r * RH} y2={HT + r * RH} stroke="#000" strokeWidth={1.6} />
        ))}
        {[0, 1, 2, 3, 4, 5].map((i) => (
          <line key={"hv" + i} x1={trackLeft(i)} x2={trackLeft(i)} y1={HT} y2={DATA_TOP} stroke="#000" strokeWidth={1.6} />
        ))}
        {tracks.map((track, i) =>
          track.map((c, r) => {
            const top = HT + r * RH;
            const cx = trackLeft(i) + TW / 2;
            return (
              <g key={"hd" + i + r}>
                <text x={cx} y={top + 18.3 + 0.365 * c.fs} textAnchor="middle" fontFamily={TITLE_FONT}
                  fontSize={c.fs} fill="#000" textLength={c.tw} lengthAdjust="spacingAndGlyphs">{c.title}</text>
                <line x1={cx - 31} x2={cx + 31} y1={top + 38.5} y2={top + 38.5} stroke={c.color} strokeWidth={2} />
                <text x={trackLeft(i) + 4} y={top + 60.7} fontFamily={UI_FONT} fontSize={14.5} fill="#222">{c.lo}</text>
                <text x={trackLeft(i) + TW - 4} y={top + 60.7} textAnchor="end" fontFamily={UI_FONT} fontSize={14.5} fill="#222">{c.hi}</text>
              </g>
            );
          })
        )}
      </g>

      {/* depth axis */}
      <line x1={249} x2={249} y1={DATA_TOP} y2={H} stroke="#333" strokeWidth={2} />
      {gridDepths.map((d) => (
        <line key={"t" + d} x1={d % 20 === 0 ? 222 : 231} x2={249} y1={yScale(d)} y2={yScale(d)} stroke="#333" strokeWidth={2} />
      ))}
      {depthLabels.map((d, k) => (
        <g key={"dl" + d}>
          <text x={218} y={yScale(d) + 6} textAnchor="end" fontFamily={UI_FONT} fontSize={16.5} fill="#333">{d}</text>
          {timeLabels[k].length === 2 ? (
            <>
              <text x={8} y={yScale(d) - 3.3} fontFamily={UI_FONT} fontSize={14} fill="#333">{timeLabels[k][0]}</text>
              <text x={8} y={yScale(d) + 14.3} fontFamily={UI_FONT} fontSize={14} fill="#333">{timeLabels[k][1]}</text>
            </>
          ) : (
            <text x={8} y={yScale(d) + 5.2} fontFamily={UI_FONT} fontSize={14.5} fill="#333">{timeLabels[k][0]}</text>
          )}
        </g>
      ))}
    </svg>
  );
}
